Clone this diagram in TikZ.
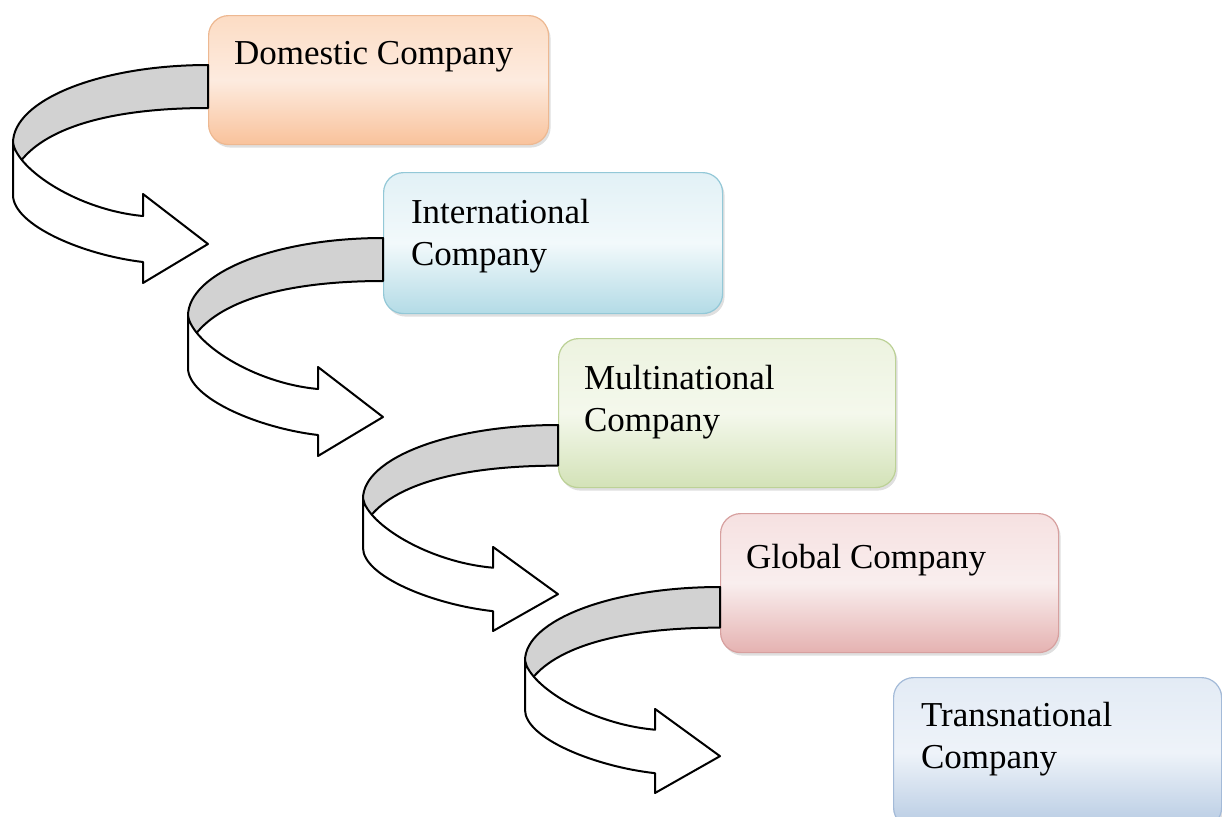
\documentclass[tikz,border=0pt]{standalone}
\usepackage{fontspec}
\setmainfont{Liberation Serif}
\usetikzlibrary{shadows}

\definecolor{domtop}{HTML}{FCDCC4}
\definecolor{dommid}{HTML}{FDEBDF}
\definecolor{dombot}{HTML}{F9C29B}
\definecolor{domline}{HTML}{EDB891}
\definecolor{inttop}{HTML}{E2F1F6}
\definecolor{intmid}{HTML}{F2F9FB}
\definecolor{intbot}{HTML}{B3DBE6}
\definecolor{intline}{HTML}{93C8D7}
\definecolor{multop}{HTML}{EDF3E0}
\definecolor{mulmid}{HTML}{F4F8EC}
\definecolor{mulbot}{HTML}{D3E2B7}
\definecolor{mulline}{HTML}{BCD196}
\definecolor{glotop}{HTML}{F6E1E1}
\definecolor{glomid}{HTML}{F9EEEE}
\definecolor{globot}{HTML}{E5B2B1}
\definecolor{gloline}{HTML}{D7A09F}
\definecolor{tratop}{HTML}{E3EBF5}
\definecolor{tramid}{HTML}{EEF3F9}
\definecolor{trabot}{HTML}{B7CBE3}
\definecolor{traline}{HTML}{A3BAD8}

\tikzset{
  turnarrow/.pic={
    \filldraw[fill=gray!35] (0,0) .. controls (-108,0) and (-195,35) .. (-195,78)
      -- (-195,100) -- (-188,97) .. controls (-160,60) and (-90,43) .. (0,43) -- cycle;
    \filldraw[fill=white] (-195,78) .. controls (-190,105) and (-130,145) .. (-65,151)
      -- (-65,129) -- (0,179) -- (-65,218) -- (-65,197)
      .. controls (-125,190) and (-195,160) .. (-195,130) -- cycle;
  }
}

\begin{document}
\begin{tikzpicture}[x=0.5pt, y=-0.5pt, line width=1pt, line join=round,
    compbox/.style={rectangle, rounded corners=10pt, anchor=north west, line width=0.6pt,
      drop shadow={opacity=0.25, shadow xshift=1pt, shadow yshift=-1.5pt}},
    comptext/.style={anchor=north west, inner sep=0pt, align=left,
      font=\fontsize{17.5}{21}\selectfont}]
    \clip (0,0) rectangle (1222,816);

    \node[compbox, draw=domline, top color=domtop, bottom color=dombot, middle color=dommid,
      minimum width=170pt, minimum height=64.5pt] (dom) at (208,15) {};
    \node[compbox, draw=intline, top color=inttop, bottom color=intbot, middle color=intmid,
      minimum width=169.5pt, minimum height=70.5pt] (intl) at (383,172) {};
    \node[compbox, draw=mulline, top color=multop, bottom color=mulbot, middle color=mulmid,
      minimum width=168.5pt, minimum height=74.5pt] (multi) at (558,338) {};
    \node[compbox, draw=gloline, top color=glotop, bottom color=globot, middle color=glomid,
      minimum width=169pt, minimum height=69.5pt] (glob) at (720,513) {};
    \node[compbox, draw=traline, top color=tratop, bottom color=trabot, middle color=tramid,
      minimum width=164pt, minimum height=75pt] (trans) at (893,677) {};

    \node[comptext] (domtext) at ([shift={(25,25)}]dom.north west) {Domestic Company};
    \node[comptext] (intltext) at ([shift={(27,26)}]intl.north west) {International\\Company};
    \node[comptext] (multitext) at ([shift={(25,26)}]multi.north west) {Multinational\\Company};
    \node[comptext] (globtext) at ([shift={(25,30)}]glob.north west) {Global Company};
    \node[comptext] (transtext) at ([shift={(27,24)}]trans.north west) {Transnational\\Company};

    \pic at ([shift={(0,50)}]dom.north west) {turnarrow};
    \pic at ([shift={(0,66)}]intl.north west) {turnarrow};
    \pic[yscale=0.945] at ([shift={(0,87)}]multi.north west) {turnarrow};
    \pic[yscale=0.945] at ([shift={(0,74)}]glob.north west) {turnarrow};
\end{tikzpicture}
\end{document}
